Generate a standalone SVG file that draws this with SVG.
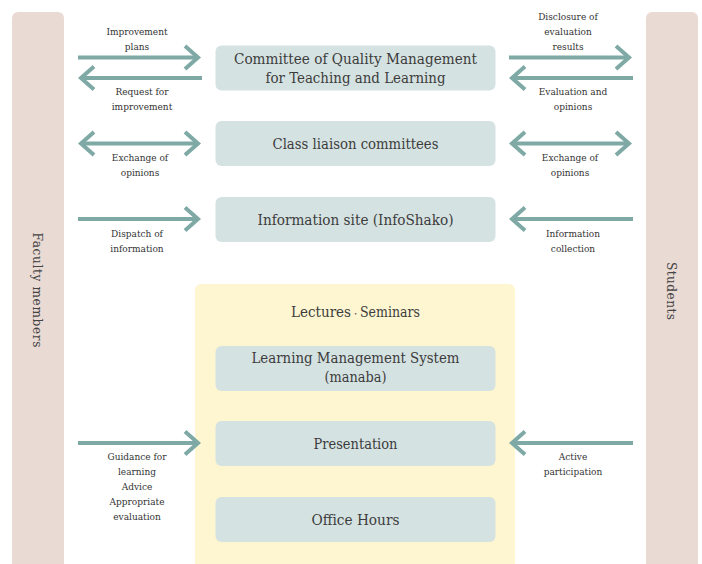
<svg xmlns="http://www.w3.org/2000/svg" width="702" height="564" viewBox="0 0 702 564">
<style>
.bar{fill:#e9dad4}
.box{fill:#d5e2e2}
.zone{fill:#fdf6d1}
.bt{font-family:"DejaVu Serif Condensed","DejaVu Serif",serif;font-size:14.5px;fill:#3c3c3c;text-anchor:middle}
.lb{font-family:"DejaVu Serif Condensed","DejaVu Serif",serif;font-size:10px;fill:#333;text-anchor:middle}
.vt{font-family:"DejaVu Serif Condensed","DejaVu Serif",serif;font-size:13.5px;fill:#444;text-anchor:middle}
.ar{stroke:#7fa9a5;stroke-width:4;fill:none}
</style>
<defs>
<marker id="chev" markerUnits="userSpaceOnUse" viewBox="-20 -15 24 30" refX="0" refY="0" markerWidth="24" markerHeight="30" orient="auto-start-reverse" overflow="visible">
<path d="M-13,-11.5 L0,0 L-13,11.5" stroke="#7fa9a5" stroke-width="4" fill="none"/>
</marker>
</defs>
<rect width="702" height="564" fill="#ffffff"/>
<g id="faculty">
<path class="bar" d="M12,564 V18 a6,6 0 0 1 6,-6 H58 a6,6 0 0 1 6,6 V564 Z"/>
<text class="vt" transform="translate(33,290) rotate(90)" textLength="115" lengthAdjust="spacing">Faculty members</text>
</g>
<g id="students">
<path class="bar" d="M646,564 V18 a6,6 0 0 1 6,-6 H692 a6,6 0 0 1 6,6 V564 Z"/>
<text class="vt" transform="translate(667,291) rotate(90)" textLength="58" lengthAdjust="spacing">Students</text>
</g>
<g id="committee">
<rect class="box" x="215.5" y="45.5" width="280" height="45" rx="6"/>
<text class="bt" x="355.5" y="64" textLength="243" lengthAdjust="spacingAndGlyphs">Committee of Quality Management</text>
<text class="bt" x="355.5" y="83" textLength="180" lengthAdjust="spacingAndGlyphs">for Teaching and Learning</text>
</g>
<g id="liaison">
<rect class="box" x="215.5" y="121" width="280" height="45" rx="6"/>
<text class="bt" x="355.5" y="149" textLength="166" lengthAdjust="spacingAndGlyphs">Class liaison committees</text>
</g>
<g id="infosite">
<rect class="box" x="215.5" y="197" width="280" height="45" rx="6"/>
<text class="bt" x="355.5" y="225" textLength="196" lengthAdjust="spacingAndGlyphs">Information site (InfoShako)</text>
</g>
<g id="lectures">
<path class="zone" d="M195,564 V290 a6,6 0 0 1 6,-6 H509 a6,6 0 0 1 6,6 V564 Z"/>
<text class="bt" x="355.5" y="317"><tspan textLength="60" lengthAdjust="spacingAndGlyphs">Lectures</tspan><tspan font-size="9px">・</tspan><tspan textLength="60" lengthAdjust="spacingAndGlyphs">Seminars</tspan></text>
</g>
<g id="lms">
<rect class="box" x="215.5" y="346" width="280" height="45" rx="6"/>
<text class="bt" x="355.5" y="363" textLength="208" lengthAdjust="spacingAndGlyphs">Learning Management System</text>
<text class="bt" x="355.5" y="382" textLength="62" lengthAdjust="spacingAndGlyphs">(manaba)</text>
</g>
<g id="presentation">
<rect class="box" x="215.5" y="421" width="280" height="45" rx="6"/>
<text class="bt" x="355.5" y="449" textLength="84" lengthAdjust="spacingAndGlyphs">Presentation</text>
</g>
<g id="office">
<rect class="box" x="215.5" y="497" width="280" height="45" rx="6"/>
<text class="bt" x="355.5" y="525" textLength="88" lengthAdjust="spacingAndGlyphs">Office Hours</text>
</g>
<g id="connectors">
<line class="ar" x1="78" y1="57.5" x2="198" y2="57.5" marker-end="url(#chev)"/>
<line class="ar" x1="202" y1="78" x2="81" y2="78" marker-end="url(#chev)"/>
<line class="ar" x1="81" y1="143.5" x2="198" y2="143.5" marker-start="url(#chev)" marker-end="url(#chev)"/>
<line class="ar" x1="78" y1="219" x2="198" y2="219" marker-end="url(#chev)"/>
<line class="ar" x1="78" y1="443" x2="198" y2="443" marker-end="url(#chev)"/>
<line class="ar" x1="509" y1="57.5" x2="629" y2="57.5" marker-end="url(#chev)"/>
<line class="ar" x1="633" y1="78" x2="512" y2="78" marker-end="url(#chev)"/>
<line class="ar" x1="512" y1="143.5" x2="629" y2="143.5" marker-start="url(#chev)" marker-end="url(#chev)"/>
<line class="ar" x1="633" y1="219" x2="512" y2="219" marker-end="url(#chev)"/>
<line class="ar" x1="633" y1="443" x2="512" y2="443" marker-end="url(#chev)"/>
<text class="lb" x="137" y="35">Improvement</text>
<text class="lb" x="137" y="50">plans</text>
<text class="lb" x="142" y="95">Request for</text>
<text class="lb" x="142" y="110">improvement</text>
<text class="lb" x="140" y="161">Exchange of</text>
<text class="lb" x="140" y="176">opinions</text>
<text class="lb" x="137" y="237">Dispatch of</text>
<text class="lb" x="137" y="252">information</text>
<text class="lb" x="137" y="460">Guidance for</text>
<text class="lb" x="137" y="475">learning</text>
<text class="lb" x="137" y="490">Advice</text>
<text class="lb" x="137" y="505">Appropriate</text>
<text class="lb" x="137" y="520">evaluation</text>
<text class="lb" x="568" y="20">Disclosure of</text>
<text class="lb" x="568" y="35">evaluation</text>
<text class="lb" x="568" y="50">results</text>
<text class="lb" x="573" y="95">Evaluation and</text>
<text class="lb" x="573" y="110">opinions</text>
<text class="lb" x="570" y="161">Exchange of</text>
<text class="lb" x="570" y="176">opinions</text>
<text class="lb" x="573" y="237">Information</text>
<text class="lb" x="573" y="252">collection</text>
<text class="lb" x="573" y="460">Active</text>
<text class="lb" x="573" y="475">participation</text>
</g>
</svg>
